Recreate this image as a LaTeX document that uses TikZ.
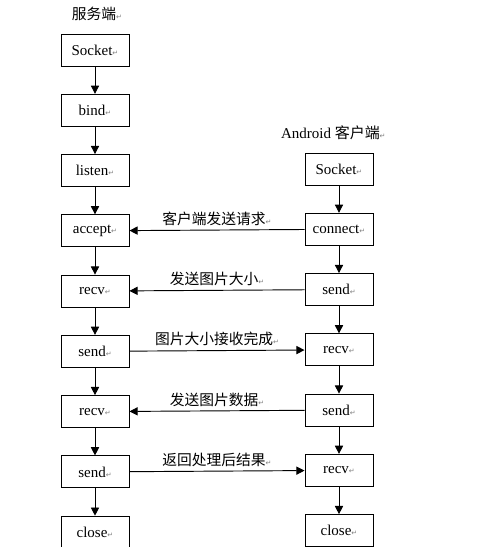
\documentclass[tikz,border=0pt]{standalone}
\usepackage{fontspec}
\setmainfont{Liberation Serif}
\newfontfamily\cjk{Noto Sans CJK SC}
\newfontfamily\markfont{DejaVu Sans}
\usetikzlibrary{positioning,arrows.meta}
\newcommand{\pmark}{{\markfont\fontsize{6}{6}\selectfont\color{gray}↵}}

\begin{document}
\begin{tikzpicture}[
    box/.style={draw, rectangle, line width=0.8pt, minimum width=2.04cm, minimum height=0.96cm, inner sep=0pt, font=\fontsize{12.8}{15}\selectfont},
    flow/.style={-{Triangle[length=7pt,width=7pt]}, line width=0.8pt},
    msg/.style={font=\cjk\fontsize{12.6}{15}\selectfont}
]
    \useasboundingbox (0,0) rectangle (15.12,-16.41);

    % Server
    \node [msg] (server) at (2.91,-0.42) {服务端\pmark};
    \node [box] (s_socket) at (2.85,-1.5) {Socket\pmark};
    \node [box, below=0.82cm of s_socket] (s_bind) {bind\pmark};
    \node [box, below=0.82cm of s_bind] (s_listen) {listen\pmark};
    \node [box, below=0.82cm of s_listen] (s_accept) {accept\pmark};
    \node [box, below=0.82cm of s_accept] (s_recv1) {recv\pmark};
    \node [box, below=0.82cm of s_recv1] (s_send1) {send\pmark};
    \node [box, below=0.82cm of s_send1] (s_recv2) {recv\pmark};
    \node [box, below=0.82cm of s_recv2] (s_send2) {send\pmark};
    \node [box, below=0.82cm of s_send2] (s_close) {close\pmark};
    \draw [flow] (s_socket) -- (s_bind);
    \draw [flow] (s_bind) -- (s_listen);
    \draw [flow] (s_listen) -- (s_accept);
    \draw [flow] (s_accept) -- (s_recv1);
    \draw [flow] (s_recv1) -- (s_send1);
    \draw [flow] (s_send1) -- (s_recv2);
    \draw [flow] (s_recv2) -- (s_send2);
    \draw [flow] (s_send2) -- (s_close);

    % Android client
    \node [font=\fontsize{12.8}{15}\selectfont] (client) at (10.0,-3.99) {Android {\cjk 客户端}\pmark};
    \node [box] (c_socket) at (10.17,-5.07) {Socket\pmark};
    \node [box, below=0.82cm of c_socket] (c_connect) {connect\pmark};
    \node [box, below=0.82cm of c_connect] (c_send1) {send\pmark};
    \node [box, below=0.82cm of c_send1] (c_recv1) {recv\pmark};
    \node [box, below=0.82cm of c_recv1] (c_send2) {send\pmark};
    \node [box, below=0.82cm of c_send2] (c_recv2) {recv\pmark};
    \node [box, below=0.82cm of c_recv2] (c_close) {close\pmark};
    \draw [flow] (c_socket) -- (c_connect);
    \draw [flow] (c_connect) -- (c_send1);
    \draw [flow] (c_send1) -- (c_recv1);
    \draw [flow] (c_recv1) -- (c_send2);
    \draw [flow] (c_send2) -- (c_recv2);
    \draw [flow] (c_recv2) -- (c_close);

    % Messages
    \draw [flow] (c_connect) -- node [msg, above] {客户端发送请求\pmark} (s_accept);
    \draw [flow] (c_send1) -- node [msg, above] {发送图片大小\pmark} (s_recv1);
    \draw [flow] (s_send1) -- node [msg, above] {图片大小接收完成\pmark} (c_recv1);
    \draw [flow] (c_send2) -- node [msg, above] {发送图片数据\pmark} (s_recv2);
    \draw [flow] (s_send2) -- node [msg, above] {返回处理后结果\pmark} (c_recv2);

\end{tikzpicture}
\end{document}
